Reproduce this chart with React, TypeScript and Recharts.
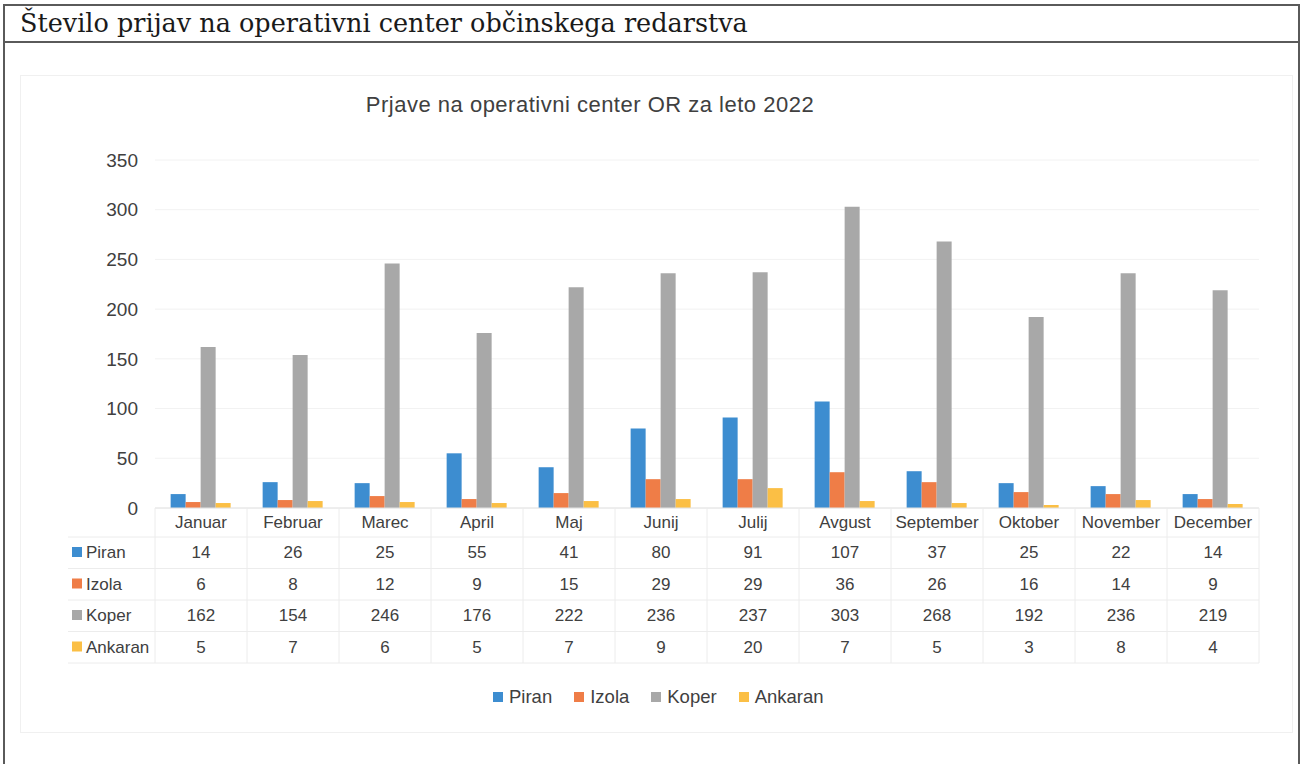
import React from 'react'
import { BarChart, Bar, XAxis, YAxis, CartesianGrid } from 'recharts'

const months = ['Januar', 'Februar', 'Marec', 'April', 'Maj', 'Junij', 'Julij', 'Avgust', 'September', 'Oktober', 'November', 'December']
const piran = [14, 26, 25, 55, 41, 80, 91, 107, 37, 25, 22, 14]
const izola = [6, 8, 12, 9, 15, 29, 29, 36, 26, 16, 14, 9]
const koper = [162, 154, 246, 176, 222, 236, 237, 303, 268, 192, 236, 219]
const ankaran = [5, 7, 6, 5, 7, 9, 20, 7, 5, 3, 8, 4]
const seriesNames = ['Piran', 'Izola', 'Koper', 'Ankaran']
const seriesKeys = ['piran', 'izola', 'koper', 'ankaran']
const seriesValues = [piran, izola, koper, ankaran]
const yTicks = [0, 50, 100, 150, 200, 250, 300, 350]

const colors = ['#3d8dd0', '#ef7d47', '#a8a8a8', '#fbbf45']
const font = '"Liberation Sans", Arial, sans-serif'
const textColor = '#404040'
const faint = '#ececec'

const data = months.map((m, i) => ({
  month: m,
  piran: piran[i],
  izola: izola[i],
  koper: koper[i],
  ankaran: ankaran[i]
}))

const W = 1304
const H = 764
const plotLeft = 155
const plotRight = 1259
const band = (plotRight - plotLeft) / months.length
const rowPitch = 31.5

const TableTick = (props: any) => {
  const { x, y, payload, index } = props
  const half = band / 2
  const rows = seriesValues.map((vals, r) => (
    <text key={r} x={x} y={y + 50 + r * rowPitch} textAnchor="middle" fontSize={17} fill={textColor} fontFamily={font}>
      {vals[index]}
    </text>
  ))
  const hLines = [0, 1, 2, 3, 4].map((k) => (
    <line key={'h' + k} x1={x - half} x2={x + half} y1={y + 29 + k * rowPitch} y2={y + 29 + k * rowPitch} stroke={faint} />
  ))
  return (
    <g>
      <line x1={x - half} x2={x - half} y1={y} y2={y + 29 + 4 * rowPitch} stroke={faint} />
      {index === months.length - 1 && (
        <line x1={x + half} x2={x + half} y1={y} y2={y + 29 + 4 * rowPitch} stroke={faint} />
      )}
      {hLines}
      <text x={x} y={y + 20} textAnchor="middle" fontSize={17} fill={textColor} fontFamily={font}>
        {payload.value}
      </text>
      {rows}
      {index === 0 && (
        <g>
          {[0, 1, 2, 3, 4].map((k) => (
            <line key={'lh' + k} x1={x - half - 87} x2={x - half} y1={y + 29 + k * rowPitch} y2={y + 29 + k * rowPitch} stroke={faint} />
          ))}
          {seriesNames.map((n, r) => (
            <g key={n}>
              <rect x={x - half - 83} y={y + 39 + r * rowPitch} width={10} height={10} fill={colors[r]} />
              <text x={x - half - 69} y={y + 50 + r * rowPitch} fontSize={17} fill={textColor} fontFamily={font}>
                {n}
              </text>
            </g>
          ))}
        </g>
      )}
    </g>
  )
}

const App = () => {
  return (
    <div style={{ position: 'relative', width: W, height: H, background: '#fff', overflow: 'hidden' }}>
      <style>{'body{margin:0}'}</style>
      <div style={{ position: 'absolute', left: 3, top: 4, width: 1297, height: 800, border: '2px solid #5a5a5a', boxSizing: 'border-box' }} />
      <div style={{ position: 'absolute', left: 3, top: 41, width: 1297, height: 2, background: '#5a5a5a' }} />
      <div style={{ position: 'absolute', left: 20, top: 8, fontFamily: '"DejaVu Serif", serif', fontSize: 25.5, color: '#1a1a1a', whiteSpace: 'nowrap', lineHeight: '30px' }}>
        Število prijav na operativni center občinskega redarstva
      </div>
      <div style={{ position: 'absolute', left: 20, top: 75, width: 1273, height: 658, border: '1px solid #f0f0f0', boxSizing: 'border-box' }} />
      <div style={{ position: 'absolute', left: 0, top: 0 }}>
        <BarChart
          width={W}
          height={H}
          data={data}
          margin={{ top: 160, right: W - plotRight, bottom: 255, left: 0 }}
          barCategoryGap="17%"
          barGap={0}
        >
          <CartesianGrid vertical={false} stroke="#f2f2f2" />
          <XAxis
            dataKey="month"
            height={1}
            tickLine={false}
            tickSize={0}
            tickMargin={0}
            axisLine={{ stroke: '#e2e2e2' }}
            interval={0}
            tick={<TableTick />}
          />
          <YAxis
            width={plotLeft}
            domain={[0, 350]}
            ticks={yTicks}
            tickLine={false}
            axisLine={false}
            tickSize={0}
            tickMargin={17}
            tick={{ fontSize: 19, fill: textColor, fontFamily: font }}
          />
          {seriesKeys.map((k, i) => (
            <Bar key={k} dataKey={k} name={seriesNames[i]} fill={colors[i]} isAnimationActive={false} />
          ))}
        </BarChart>
      </div>
      <div style={{ position: 'absolute', left: 0, width: 1180, top: 92, textAlign: 'center', fontFamily: font, fontSize: 22, letterSpacing: 0.5, color: textColor }}>
        Prjave na operativni center OR za leto 2022
      </div>
      <div style={{ position: 'absolute', left: 493, top: 686, display: 'flex', alignItems: 'center', fontFamily: font, fontSize: 18.5, color: textColor }}>
        {seriesNames.map((n, i) => (
          <div key={n} style={{ display: 'flex', alignItems: 'center', marginRight: 22 }}>
            <span style={{ display: 'inline-block', width: 10, height: 10, background: colors[i], marginRight: 6 }} />
            <span>{n}</span>
          </div>
        ))}
      </div>
    </div>
  )
}

export default App
